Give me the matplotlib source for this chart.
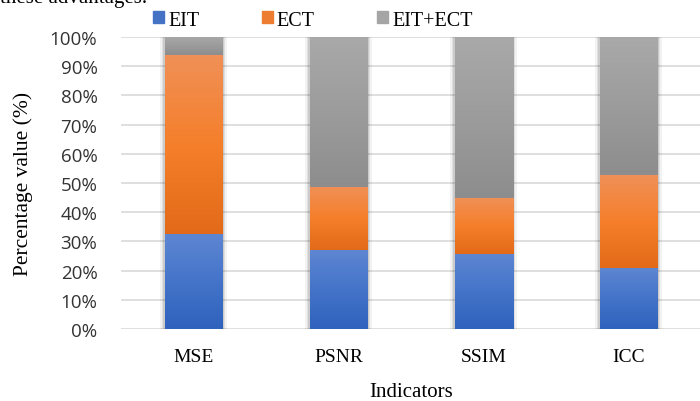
import numpy as np
import matplotlib.pyplot as plt
from matplotlib.colors import LinearSegmentedColormap

indicators = ["MSE", "PSNR", "SSIM", "ICC"]
eit = [32.5, 27.0, 25.7, 20.9]
ect = [61.3, 21.6, 19.2, 31.8]
eit_ect = [6.2, 51.4, 55.1, 47.3]
series_names = ["EIT", "ECT", "EIT+ECT"]
yticks = [0, 10, 20, 30, 40, 50, 60, 70, 80, 90, 100]

# (top colour, middle, bottom colour) for the gradient fills
grad = {
    "EIT": ["#5e86d2", "#4474c9", "#2f62bd"],
    "ECT": ["#f09057", "#f57f2b", "#e26a18"],
    "EIT+ECT": ["#a9a9a9", "#9c9c9c", "#8d8d8d"],
}
legend_col = {"EIT": "#4472c4", "ECT": "#ed7d31", "EIT+ECT": "#a5a5a5"}

fig = plt.figure(figsize=(7.0, 4.02), dpi=100)
ax = fig.add_axes([121 / 700, 1 - 330 / 402, 580 / 700, 292 / 402])

x = np.arange(len(indicators))
width = 0.4
bottoms = np.zeros(len(indicators))
grad_img = np.linspace(1, 0, 256).reshape(-1, 1)

for name, vals in zip(series_names, [eit, ect, eit_ect]):
    cmap = LinearSegmentedColormap.from_list(name, grad[name][::-1])
    bars = ax.bar(x, vals, width, bottom=bottoms, color="none", edgecolor="none",
                  zorder=3)
    for b in bars:
        x0, y0 = b.get_x(), b.get_y()
        w, h = b.get_width(), b.get_height()
        # soft shadow
        for k, a in zip([0.03, 0.02, 0.01], [0.05, 0.07, 0.09]):
            ax.add_patch(plt.Rectangle((x0 - k, y0), w + 2 * k, h, color="black",
                                       alpha=a, lw=0, zorder=2))
        im = ax.imshow(grad_img, cmap=cmap, aspect="auto", extent=[x0, x0 + w, y0, y0 + h],
                       zorder=3, interpolation="bilinear")
        im.set_clip_path(b)
    bottoms += np.array(vals)

ax.set_xlim(-0.5, len(indicators) - 0.5)
ax.set_ylim(0, 100)
ax.set_yticks(yticks)
ax.set_yticklabels([f"{t}%" for t in yticks], family="Open Sans", fontsize=13.5,
                   color="#333333")
ax.set_xticks(x)
ax.set_xticklabels(indicators, family="Liberation Serif", fontsize=14)
ax.tick_params(axis="y", length=0, pad=17)
ax.tick_params(axis="x", length=0, pad=14)
ax.grid(axis="y", color="#d9d9d9", lw=1.2, zorder=0)
for s in ax.spines.values():
    s.set_visible(False)

ax.set_ylabel("Percentage value (%)", family="Liberation Serif", fontsize=15.5, labelpad=12)
ax.set_xlabel("Indicators", family="Liberation Serif", fontsize=15, labelpad=12)

handles = [plt.Rectangle((0, 0), 1, 1, color=legend_col[n]) for n in series_names]
fig.legend(handles, series_names, loc="center", bbox_to_anchor=(313 / 700, 1 - 21 / 402),
           ncol=3, frameon=False, prop={"family": "Liberation Serif", "size": 14.5},
           handlelength=0.55, handleheight=0.55, handletextpad=0.2, columnspacing=3.1)

fig.text(0.0, 1 - 8 / 402, "these advantages.", family="Liberation Serif", fontsize=15,
         va="bottom", ha="left")

fig.savefig("out.png", dpi=100)
